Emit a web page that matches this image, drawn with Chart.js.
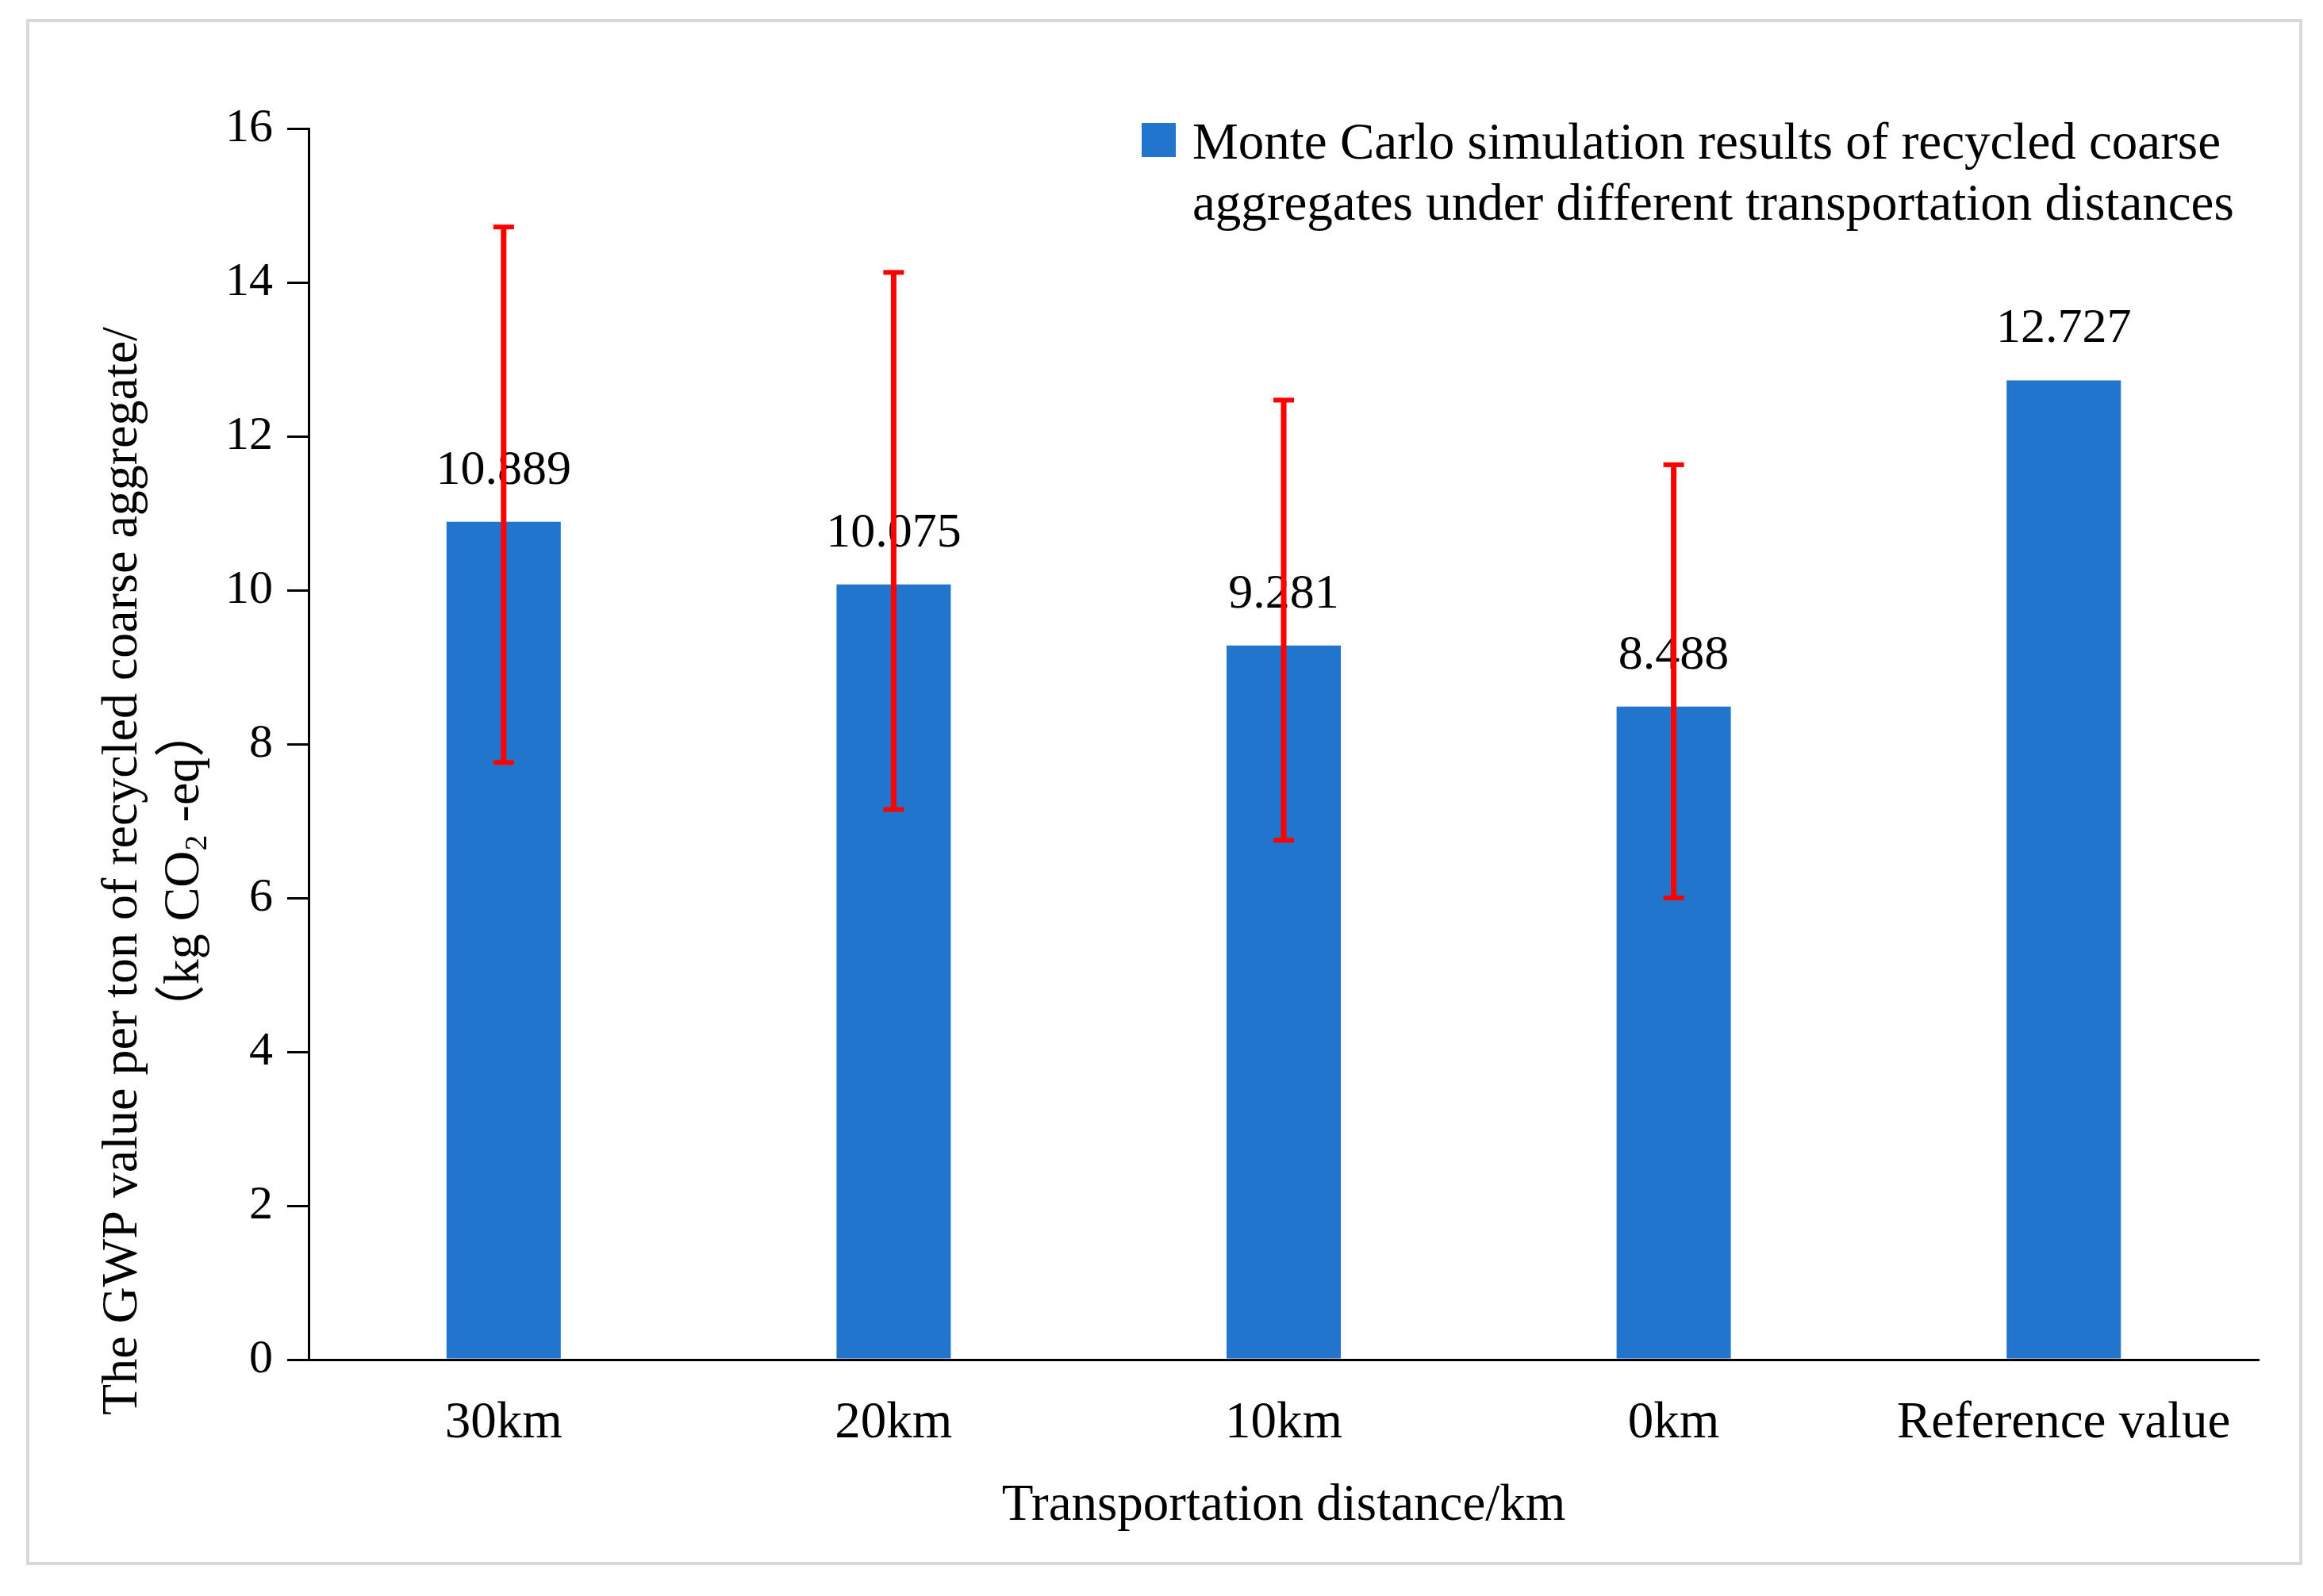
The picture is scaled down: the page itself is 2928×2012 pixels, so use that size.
<!DOCTYPE html>
<html>
<head>
<meta charset="utf-8">
<script src="https://cdn.jsdelivr.net/npm/chart.js@4.4.1/dist/chart.umd.min.js"></script>
<style>
  html, body { margin: 0; padding: 0; background: #fff; }
  canvas { display: block; }
</style>
</head>
<body>
<canvas id="gwp_chart" width="2928" height="2012"></canvas>
<script>
const categories = ['30km', '20km', '10km', '0km', 'Reference value'];
const gwpValues = [10.889, 10.075, 9.281, 8.488, 12.727];
const errorLow = [7.76, 7.15, 6.75, 6.00, null];
const errorHigh = [14.72, 14.13, 12.47, 11.63, null];
const yTicks = [0, 2, 4, 6, 8, 10, 12, 14, 16];

const legendLines = [
    'Monte Carlo simulation results of recycled coarse',
    'aggregates under different transportation distances'
];
const xTitle = 'Transportation distance/km';
const yTitleLine1 = 'The GWP value per ton of recycled coarse aggregate/';
const yTitleLine2 = [['（kg CO', false], ['2', true], [' -eq）', false]];

const SERIF = "'Liberation Serif', 'Times New Roman', 'Noto Sans CJK SC', serif";
const BAR_COLOR = '#2275cd';

// white page with thin grey frame
const framePlugin = {
    id: 'frame',
    beforeDraw(chart) {
        const ctx = chart.ctx;
        ctx.save();
        ctx.fillStyle = '#fff';
        ctx.fillRect(0, 0, chart.width, chart.height);
        ctx.strokeStyle = '#d9d9d9';
        ctx.lineWidth = 4;
        ctx.strokeRect(35, 26, 2865, 1945);
        ctx.restore();
    }
};

// value labels above bars, then red error bars on top
const barExtras = {
    id: 'barExtras',
    afterDatasetsDraw(chart) {
        const ctx = chart.ctx;
        const meta = chart.getDatasetMeta(0);
        const yScale = chart.scales.y;
        ctx.save();
        ctx.fillStyle = '#000';
        ctx.font = `62px ${SERIF}`;
        ctx.textAlign = 'center';
        ctx.textBaseline = 'alphabetic';
        meta.data.forEach((bar, i) => {
            ctx.fillText(gwpValues[i].toFixed(3), bar.x, bar.y - 48);
        });

        ctx.strokeStyle = '#ff0000';
        ctx.fillStyle = '#ff0000';
        ctx.lineWidth = 7;
        meta.data.forEach((bar, i) => {
            if (errorLow[i] === null) return;
            const yl = yScale.getPixelForValue(errorLow[i]);
            const yh = yScale.getPixelForValue(errorHigh[i]);
            ctx.beginPath();
            ctx.moveTo(bar.x, yl);
            ctx.lineTo(bar.x, yh);
            ctx.stroke();
            ctx.fillRect(bar.x - 13, yh - 3, 26, 6);
            ctx.fillRect(bar.x - 13, yl - 3, 26, 6);
        });
        ctx.restore();
    }
};

const legendAndTitle = {
    id: 'legendAndTitle',
    afterDraw(chart) {
        const ctx = chart.ctx;
        ctx.save();
        // legend
        ctx.fillStyle = BAR_COLOR;
        ctx.fillRect(1439, 155, 43, 43);
        ctx.fillStyle = '#000';
        ctx.font = `65px ${SERIF}`;
        ctx.textAlign = 'left';
        ctx.textBaseline = 'alphabetic';
        legendLines.forEach((line, i) => ctx.fillText(line, 1503, 200 + i * 77));

        // y axis title, two rotated lines centred on the same point
        const titleCenterY = 1098;
        ctx.font = `64px ${SERIF}`;
        ctx.save();
        ctx.translate(172, titleCenterY);
        ctx.rotate(-Math.PI / 2);
        ctx.textAlign = 'center';
        ctx.fillText(yTitleLine1, 0, 0);
        ctx.restore();

        ctx.save();
        ctx.translate(250, titleCenterY);
        ctx.rotate(-Math.PI / 2);
        ctx.textAlign = 'left';
        const fontFor = sub => sub ? `40px ${SERIF}` : `64px ${SERIF}`;
        let total = 0;
        yTitleLine2.forEach(([t, sub]) => {
            ctx.font = fontFor(sub);
            total += ctx.measureText(t).width;
        });
        let x = -total / 2;
        yTitleLine2.forEach(([t, sub]) => {
            ctx.font = fontFor(sub);
            ctx.fillText(t, x, sub ? 10 : 0);
            x += ctx.measureText(t).width;
        });
        ctx.restore();

        ctx.restore();
    }
};

const ctx = document.getElementById('gwp_chart').getContext('2d');
const chart = new Chart(ctx, {
    type: 'bar',
    data: {
        labels: categories,
        datasets: [{
            label: legendLines.join(' '),
            data: gwpValues,
            backgroundColor: BAR_COLOR,
            borderWidth: 0,
            barPercentage: 0.293,
            categoryPercentage: 1.0
        }]
    },
    options: {
        responsive: false,
        devicePixelRatio: 1,
        animation: false,
        layout: {
            padding: { top: 162, right: 81, left: 0, bottom: 0 }
        },
        plugins: {
            legend: { display: false },
            tooltip: { enabled: false }
        },
        scales: {
            x: {
                grid: { display: false, drawTicks: false },
                border: { display: true, color: '#000', width: 3 },
                ticks: {
                    color: '#000',
                    padding: 42,
                    font: { family: SERIF, size: 65, lineHeight: 1.2 }
                },
                title: {
                    display: true,
                    text: xTitle,
                    color: '#000',
                    font: { family: SERIF, size: 65, lineHeight: 1.2 },
                    padding: { top: 0, bottom: 74 }
                },
                afterFit(scale) { scale.height = 298; }
            },
            y: {
                min: yTicks[0],
                max: yTicks[yTicks.length - 1],
                afterBuildTicks(scale) {
                    scale.ticks = yTicks.map(v => ({ value: v }));
                },
                grid: {
                    display: true,
                    drawOnChartArea: false,
                    drawTicks: true,
                    tickLength: 27,
                    color: '#000',
                    lineWidth: 3
                },
                border: { display: true, color: '#000', width: 3 },
                ticks: {
                    color: '#000',
                    padding: 18,
                    font: { family: SERIF, size: 60 }
                },
                afterFit(scale) { scale.width = 389; }
            }
        }
    },
    plugins: [framePlugin, barExtras, legendAndTitle]
});
</script>
</body>
</html>
